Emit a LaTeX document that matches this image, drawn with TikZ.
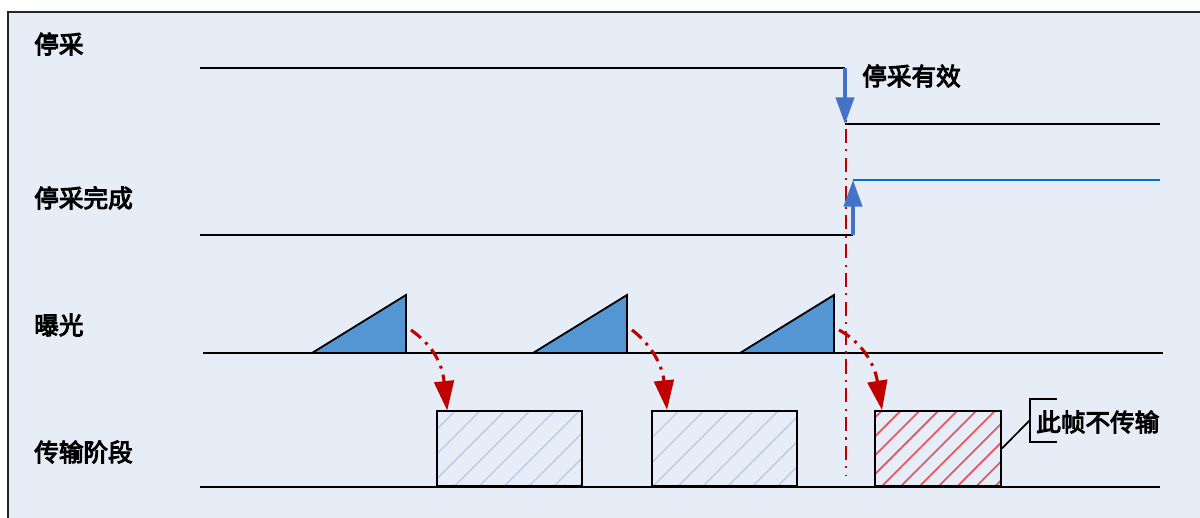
\documentclass[tikz,border=0pt]{standalone}
\usepackage{fontspec}
\newfontfamily\cjk[AutoFakeBold=4]{Noto Sans CJK SC}
\usepackage{tikz}
\usetikzlibrary{arrows.meta, patterns.meta}
\definecolor{panelblue}{RGB}{231,237,247}
\definecolor{arrowblue}{RGB}{68,114,196}
\definecolor{lineblue}{RGB}{0,112,192}
\definecolor{expblue}{RGB}{84,150,212}
\definecolor{hatchblue}{RGB}{188,204,232}
\definecolor{myred}{RGB}{192,0,0}
\definecolor{hatchred}{RGB}{222,92,104}
\tikzset{
  panel/.style={fill=panelblue, draw=black!85, line width=1.2pt},
  siglabel/.style={anchor=west, inner sep=0pt,
    font=\fontsize{17.5}{20}\selectfont\cjk\bfseries},
  sigline/.style={line width=2pt, color=black},
  blueline/.style={line width=2pt, color=lineblue},
  bluearrow/.style={-{Triangle[length=19pt, width=13pt]}, line width=2.5pt, color=arrowblue},
  expo/.style={fill=expblue, draw=black, line width=1.3pt, line join=miter},
  txbox/.style={draw=black, line width=1.5pt, anchor=south west, inner sep=0pt,
    minimum height=1.875cm,
    pattern={Lines[angle=45, distance=12.5pt, line width=1pt]}, pattern color=hatchblue},
  skipbox/.style={txbox,
    pattern={Lines[angle=45, distance=9.5pt, line width=1.3pt]}, pattern color=hatchred},
  redarrow/.style={-{Triangle[length=21pt, width=14pt]}, line width=2.2pt, color=myred,
    dash pattern=on 9pt off 4.5pt on 2pt off 4.5pt},
  reddash/.style={line width=1.4pt, color=myred,
    dash pattern=on 10pt off 4.5pt on 1.5pt off 4.5pt},
  callout/.style={line width=1.2pt, color=black}
}
\begin{document}
\begin{tikzpicture}[x=0.025cm, y=-0.025cm]
  \useasboundingbox (0,0) rectangle (1200,518);
  % Background panel
  \filldraw[panel] (8,12) rectangle (1206,524);

  % Signal names
  \node[siglabel] (l_stop) at (34,44) {停采};
  \node[siglabel] (l_done) at (34,198) {停采完成};
  \node[siglabel] (l_exp) at (34,325) {曝光};
  \node[siglabel] (l_tx) at (34,452) {传输阶段};

  % Stop signal
  \coordinate (stop_a) at (200,68);
  \coordinate (stop_b) at (845,68);
  \coordinate (stop_c) at (845,124);
  \coordinate (stop_d) at (1160,124);
  \draw[sigline] (stop_a) -- (stop_b);
  \draw[sigline] (stop_c) -- (stop_d);
  \node[siglabel] (l_valid) at (862,76) {停采有效};

  % Stop done signal
  \coordinate (done_a) at (200,235);
  \coordinate (done_b) at (853,235);
  \coordinate (done_c) at (853,180);
  \coordinate (done_d) at (1160,180);
  \draw[sigline] (done_a) -- (done_b);
  \draw[blueline] (done_c) -- (done_d);

  % Exposure
  \coordinate (exp_a) at (203,353);
  \coordinate (exp_b) at (1163,353);
  \foreach \x [count=\i] in {312,533,740} {
    \filldraw[expo] (\x,353) -- (\x+94,295) -- (\x+94,353) -- cycle;
    \coordinate (e\i) at (\x+99,330);
  }
  \draw[sigline] (exp_a) -- (exp_b);

  % Transfer stage
  \coordinate (tx_a) at (200,487);
  \coordinate (tx_b) at (1160,487);
  \node[txbox, minimum width=3.625cm] (tx1) at (436,487) {};
  \node[txbox, minimum width=3.625cm] (tx2) at (651,487) {};
  \node[skipbox, minimum width=3.15cm] (tx3) at (874,487) {};
  \draw[sigline] (tx_a) -- (tx_b);

  % Cut line
  \coordinate (cut_top) at (846,100);
  \coordinate (cut_bot) at (846,476);
  \draw[reddash] (cut_top) -- (cut_bot);

  % Edge arrows
  \draw[bluearrow] (stop_b) -- (stop_c);
  \draw[bluearrow] (done_b) -- (done_c);

  % Exposure to transfer
  \draw[redarrow] (e1) .. controls (432,345) and (442,362) .. ([xshift=0.28cm]tx1.north west);
  \draw[redarrow] (e2) .. controls (648,342) and (662,362) .. ([xshift=0.4cm]tx2.north west);
  \draw[redarrow] (e3) .. controls (858,340) and (874,360) .. ([xshift=0.2cm]tx3.north west);

  % Callout
  \node[siglabel] (l_skip) at (1036,422) {此帧不传输};
  \coordinate (br_top) at (1057,399);
  \coordinate (br_bot) at (1057,442);
  \draw[callout] (br_top) -| (1030,420) |- (br_bot);
  \draw[callout] (tx3.east) -- (1030,420);
\end{tikzpicture}
\end{document}
